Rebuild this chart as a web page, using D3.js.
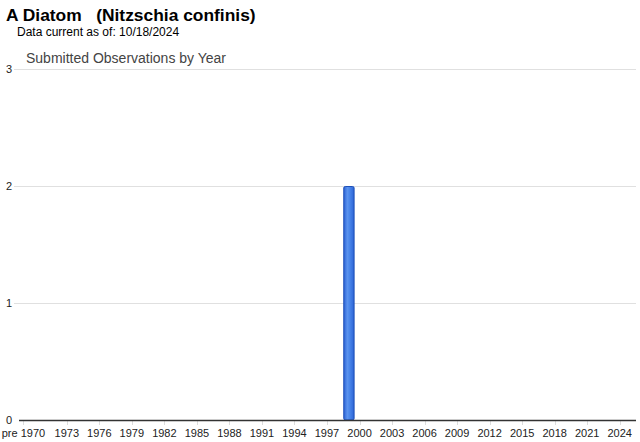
<!DOCTYPE html>
<html><head><meta charset="utf-8">
<script src="https://cdn.jsdelivr.net/npm/d3@7"></script>
<style>body{margin:0;background:#fff;font-family:"Liberation Sans",Arial,sans-serif}</style>
</head><body><svg id="c" width="640" height="442"></svg>
<script>
(function(){
const categories = ["pre 1970"].concat(d3.range(1970, 2026).map(String));
const values = categories.map(c => c === "1999" ? 2 : 0);
const tickLabels = ["pre 1970","1973","1976","1979","1982","1985","1988","1991","1994","1997","2000","2003","2006","2009","2012","2015","2018","2021","2024"];
const yTicks = [0,1,2,3];

const svg = d3.select("#c");
const pLeft = 18, pRight = 636, pTop = 69, pBottom = 420;
const x = d3.scaleBand().domain(categories).range([pLeft, pRight]).paddingInner(0.0).paddingOuter(0);
const y = d3.scaleLinear().domain([0,3]).range([pBottom, pTop]);

const defs = svg.append("defs");
const g = defs.append("linearGradient").attr("id","bg").attr("x1","0").attr("x2","1").attr("y1","0").attr("y2","0");
[["0%","#2c62d6"],["35%","#5b93ee"],["55%","#4a86ea"],["80%","#3a74e0"],["100%","#2c62d6"]].forEach(s=>g.append("stop").attr("offset",s[0]).attr("stop-color",s[1]));

svg.append("text").attr("x",6).attr("y",21).attr("font-size",17.4).attr("font-weight","bold").attr("fill","#000").style("white-space","pre").text("A Diatom   (Nitzschia confinis)");
svg.append("text").attr("x",17).attr("y",36).attr("font-size",12).attr("fill","#000").text("Data current as of: 10/18/2024");
svg.append("text").attr("x",26).attr("y",63).attr("font-size",14).attr("fill","#444").text("Submitted Observations by Year");

svg.append("g").selectAll("line").data(yTicks.filter(d=>d>0)).join("line")
  .attr("x1",14).attr("x2",pRight).attr("y1",d=>Math.round(y(d))+0.5).attr("y2",d=>Math.round(y(d))+0.5)
  .attr("stroke","#e0e0e0").attr("stroke-width",1);

svg.append("g").selectAll("text").data(yTicks).join("text")
  .attr("x",12).attr("y",d=>y(d)+4).attr("text-anchor","end").attr("font-size",11).attr("fill","#222").text(d=>d);

svg.append("g").selectAll("line").data(tickLabels).join("line")
  .attr("x1",d=>Math.round(x(d)+x.bandwidth()/2)+0.5).attr("x2",d=>Math.round(x(d)+x.bandwidth()/2)+0.5)
  .attr("y1",pBottom).attr("y2",pBottom+5).attr("stroke","#ddd");

const bw = x.bandwidth();
svg.append("g").selectAll("rect").data(categories.map((c,i)=>({c,v:values[i]})).filter(d=>d.v>0)).join("rect")
  .attr("x",d=>x(d.c)+0.5).attr("y",d=>y(d.v)+0.5)
  .attr("width",bw-0.5).attr("height",d=>y(0)-y(d.v)-0.5)
  .attr("rx",1.5)
  .attr("fill","url(#bg)").attr("stroke","#1d4fb8").attr("stroke-width",1);

svg.append("line").attr("x1",19).attr("x2",pRight).attr("y1",pBottom+0.5).attr("y2",pBottom+0.5).attr("stroke","#333").attr("stroke-width",1.3);

svg.append("g").selectAll("text").data(tickLabels).join("text")
  .attr("x",d=>x(d)+x.bandwidth()/2).attr("y",437).attr("text-anchor","middle").attr("font-size",11).attr("fill","#222").text(d=>d);
})();
</script></body></html>
